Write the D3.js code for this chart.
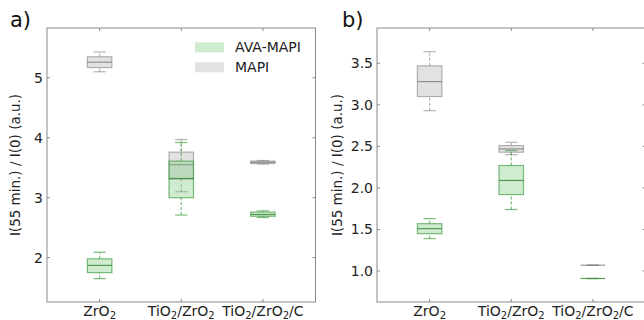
<!DOCTYPE html>
<html>
<head>
<meta charset="utf-8">
<script src="https://cdnjs.cloudflare.com/ajax/libs/d3/7.8.5/d3.min.js"></script>
<style>
  body { margin: 0; background: #fff; }
  svg { display: block; font-family: "DejaVu Sans", sans-serif; }
</style>
</head>
<body>
<div id="chart"></div>
<script>
// categories along x
const categories = ["ZrO2", "TiO2/ZrO2", "TiO2/ZrO2/C"];
const seriesNames = ["AVA-MAPI", "MAPI"];

// five-number summaries [low whisker, q1, median, q3, high whisker]
const mapiA = [[5.10, 5.17, 5.26, 5.35, 5.43], [3.10, 3.31, 3.55, 3.76, 3.97], [3.56, 3.57, 3.59, 3.61, 3.62]];
const avaA  = [[1.65, 1.75, 1.87, 1.98, 2.09], [2.71, 3.00, 3.32, 3.61, 3.92], [2.67, 2.69, 2.72, 2.76, 2.78]];
const mapiB = [[2.93, 3.10, 3.28, 3.47, 3.64], [2.40, 2.43, 2.47, 2.51, 2.55], [1.07, 1.07, 1.07, 1.07, 1.07]];
const avaB  = [[1.39, 1.45, 1.51, 1.57, 1.63], [1.74, 1.92, 2.09, 2.27, 2.45], [0.91, 0.91, 0.91, 0.91, 0.91]];

const yTicksA = [2, 3, 4, 5];
const yTicksB = [1.0, 1.5, 2.0, 2.5, 3.0, 3.5];
const yLabel = "I(55 min.) / I(0) (a.u.)";

const W = 644, H = 320;
const svg = d3.select('#chart').append('svg').attr('width', W).attr('height', H);

const style = {
  mapi: { fill: 'rgba(160,160,160,0.3)', stroke: 'rgba(120,120,120,0.55)', median: 'rgba(110,110,110,0.7)' },
  ava:  { fill: 'rgba(120,200,120,0.35)', stroke: 'rgba(70,160,70,0.7)', median: 'rgba(60,140,60,0.85)' }
};

function subLabel(sel, label) {
  // digits become subscripts
  const parts = label.split(/(\d)/).filter(s => s.length);
  let shifted = false;
  parts.forEach(p => {
    const isSub = /\d/.test(p);
    const t = sel.append('tspan').text(p);
    if (isSub) {
      t.attr('font-size', '10px').attr('dy', 2.5);
      shifted = true;
    } else if (shifted) {
      t.attr('dy', -2.5);
      shifted = false;
    }
  });
}

function panel(opt) {
  const x = d3.scaleLinear().domain([0.355, 3.645]).range([opt.left, opt.left + 268.5]);
  const y = d3.scaleLinear().domain(opt.yDomain).range([302, 28]);
  const g = svg.append('g');
  const frame = '#8a8a8a';

  // box plots
  const bw = 0.3, cw = 0.15;
  [[opt.mapi, style.mapi], [opt.ava, style.ava]].forEach(([data, st]) => {
    data.forEach((d, i) => {
      const cx = i + 1;
      const bg = g.append('g');
      // whiskers
      [[d[0], d[1]], [d[3], d[4]]].forEach(w => {
        bg.append('line')
          .attr('x1', x(cx)).attr('x2', x(cx))
          .attr('y1', y(w[0])).attr('y2', y(w[1]))
          .attr('stroke', st.stroke).attr('stroke-width', 1.2)
          .attr('stroke-dasharray', '3,2');
      });
      [d[0], d[4]].forEach(v => {
        bg.append('line')
          .attr('x1', x(cx - cw / 2)).attr('x2', x(cx + cw / 2))
          .attr('y1', y(v)).attr('y2', y(v))
          .attr('stroke', st.stroke).attr('stroke-width', 1.2);
      });
      bg.append('rect')
        .attr('x', x(cx - bw / 2)).attr('width', x(cx + bw / 2) - x(cx - bw / 2))
        .attr('y', y(d[3])).attr('height', Math.max(0, y(d[1]) - y(d[3])))
        .attr('fill', st.fill).attr('stroke', st.stroke).attr('stroke-width', 1.2);
      bg.append('line')
        .attr('x1', x(cx - bw / 2)).attr('x2', x(cx + bw / 2))
        .attr('y1', y(d[2])).attr('y2', y(d[2]))
        .attr('stroke', st.median).attr('stroke-width', 1.2);
    });
  });

  // frame
  g.append('rect')
    .attr('x', x.range()[0]).attr('y', 28)
    .attr('width', x.range()[1] - x.range()[0]).attr('height', 274)
    .attr('fill', 'none').attr('stroke', frame).attr('stroke-width', 1);

  // y ticks (inward both sides)
  opt.yTicks.forEach(t => {
    const yy = y(t);
    g.append('line').attr('x1', x.range()[0]).attr('x2', x.range()[0] + 3)
      .attr('y1', yy).attr('y2', yy).attr('stroke', frame);
    g.append('line').attr('x1', x.range()[1]).attr('x2', x.range()[1] - 3)
      .attr('y1', yy).attr('y2', yy).attr('stroke', frame);
    g.append('text')
      .attr('x', x.range()[0] - 4).attr('y', yy)
      .attr('text-anchor', 'end').attr('dominant-baseline', 'central')
      .attr('font-size', '14px').attr('fill', '#222')
      .text(opt.yFormat(t));
  });

  // x ticks
  categories.forEach((c, i) => {
    const xx = x(i + 1);
    g.append('line').attr('x1', xx).attr('x2', xx).attr('y1', 302).attr('y2', 299).attr('stroke', frame);
    g.append('line').attr('x1', xx).attr('x2', xx).attr('y1', 28).attr('y2', 31).attr('stroke', frame);
    const t = g.append('text')
      .attr('x', xx).attr('y', 316)
      .attr('text-anchor', 'middle')
      .attr('font-size', '14px').attr('fill', '#222');
    subLabel(t, c);
  });

  // y axis label
  g.append('text')
    .attr('transform', `translate(${opt.labelX},165) rotate(-90)`)
    .attr('text-anchor', 'middle').attr('dominant-baseline', 'central')
    .attr('font-size', '13.5px').attr('fill', '#222')
    .text(yLabel);

  // panel letter
  g.append('text')
    .attr('x', opt.letterX).attr('y', 27)
    .attr('font-size', '21px').attr('fill', '#111')
    .text(opt.letter);

  return { x, y, g };
}

const pa = panel({
  left: 47, yDomain: [1.26, 5.83], yTicks: yTicksA, yFormat: d3.format('d'),
  mapi: mapiA, ava: avaA, labelX: 15, letter: 'a)', letterX: 10
});
panel({
  left: 377, yDomain: [0.627, 3.925], yTicks: yTicksB, yFormat: d3.format('.1f'),
  mapi: mapiB, ava: avaB, labelX: 337, letter: 'b)', letterX: 342
});

// legend in panel a
const legend = pa.g.append('g');
[[seriesNames[0], style.ava.fill], [seriesNames[1], style.mapi.fill]].forEach(([name, fill], i) => {
  const ly = 42.3 + i * 20;
  legend.append('rect')
    .attr('x', 195).attr('y', ly).attr('width', 29).attr('height', 10)
    .attr('fill', fill);
  legend.append('text')
    .attr('x', 235).attr('y', ly + 5)
    .attr('dominant-baseline', 'central')
    .attr('font-size', '14px').attr('fill', '#222')
    .text(name);
});
</script>
</body>
</html>
